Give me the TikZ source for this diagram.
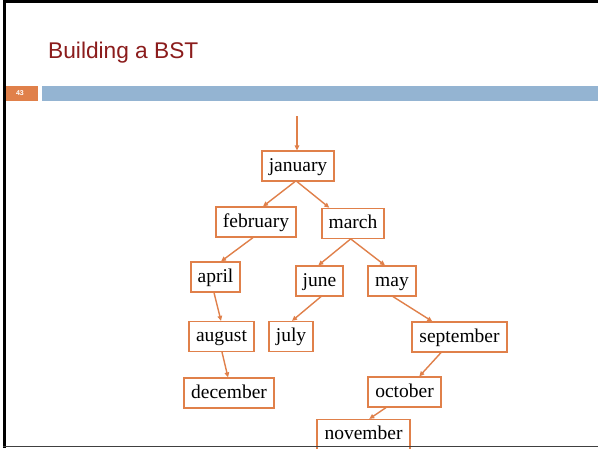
\documentclass[tikz,border=0pt]{standalone}
\usepackage{fontspec}
\setmainfont{Liberation Serif}
\newfontfamily\titlefont{Liberation Sans}
\usetikzlibrary{arrows.meta}
\definecolor{bstorange}{HTML}{E0804A}
\definecolor{barblue}{HTML}{94B4D2}
\definecolor{titlered}{HTML}{8B1C1C}
\begin{document}
\begin{tikzpicture}[x=1pt,y=-1pt,
  word/.style={draw=bstorange, line width=1.2pt, fill=white, inner xsep=2pt, inner ysep=0pt,
    minimum height=30pt, text height=14.6pt, text depth=3.9pt,
    font=\fontsize{19.5}{20}\selectfont, text=black},
  link/.style={draw=bstorange, line width=1.4pt, -{Triangle[length=5pt,width=4.5pt]}}]
\clip (0,0) rectangle (598,448);
\fill[white] (0,0) rectangle (598,448);
% header
\node[anchor=base west, inner sep=0pt, text=titlered, font=\titlefont\fontsize{22.7}{24}\selectfont] (title) at (48,58) {Building a BST};
\fill[bstorange] (5,86) rectangle (38,101);
\node[text=white, font=\titlefont\bfseries\fontsize{7}{8}\selectfont, inner sep=0pt] (num) at (20,93.5) {43};
\fill[barblue] (42,86) rectangle (598,101);
% frame
\draw[black, line width=3pt] (4.5,0) -- (4.5,448);
\draw[black, line width=3pt] (3,1.5) -- (598,1.5);
\draw[black!75, line width=1.5pt] (3,446.5) -- (598,446.5);
% nodes
\node[word, minimum width=72pt] (jan) at (298,166) {january};
\node[word, minimum width=80pt] (feb) at (256,222) {february};
\node[word, minimum width=62pt] (mar) at (353,223.3) {march};
\node[word, minimum width=49pt] (apr) at (215.5,277) {april};
\node[word, minimum width=47pt] (jun) at (319.5,281) {june};
\node[word, minimum width=48pt] (may) at (392,281) {may};
\node[word, minimum width=65pt] (aug) at (221.5,336.5) {august};
\node[word, minimum width=44pt] (jul) at (291,336.5) {july};
\node[word, minimum width=90pt] (dec) at (229,393) {december};
\node[word, minimum width=95pt] (sep) at (459.5,337) {september};
\node[word, minimum width=73pt] (oct) at (404.5,392) {october};
\node[word, minimum width=93pt] (nov) at (363.5,434.5) {november};
% redraw bottom frame line over november
\draw[black!75, line width=1.5pt] (3,446.5) -- (598,446.5);
% connectors
\coordinate (root) at (297,116);
\draw[link] (root) -- ([xshift=-1pt]jan.north);
\draw[link] ([xshift=-3pt]jan.south) -- ([xshift=7pt]feb.north);
\draw[link] ([xshift=-1pt]jan.south) -- ([xshift=-23.7pt]mar.north);
\draw[link] ([xshift=-3pt]feb.south) -- ([xshift=5.5pt]apr.north);
\draw[link] ([xshift=-2.3pt]mar.south) -- ([xshift=-1.2pt]jun.north);
\draw[link] ([xshift=-2.3pt]mar.south) -- ([xshift=-7pt]may.north);
\draw[link] ([xshift=-1.5pt]apr.south) -- ([xshift=-0.5pt]aug.north);
\draw[link] ([xshift=1.5pt]jun.south) -- ([xshift=1pt]jul.north);
\draw[link] ([xshift=0.5pt]aug.south) -- ([xshift=-1pt]dec.north);
\draw[link] ([xshift=1pt]may.south) -- ([xshift=-27.2pt]sep.north);
\draw[link] ([xshift=-18.5pt]sep.south) -- ([xshift=14.8pt]oct.north);
\draw[link] ([xshift=-18.5pt]oct.south) -- ([xshift=5.8pt]nov.north);
\end{tikzpicture}
\end{document}
